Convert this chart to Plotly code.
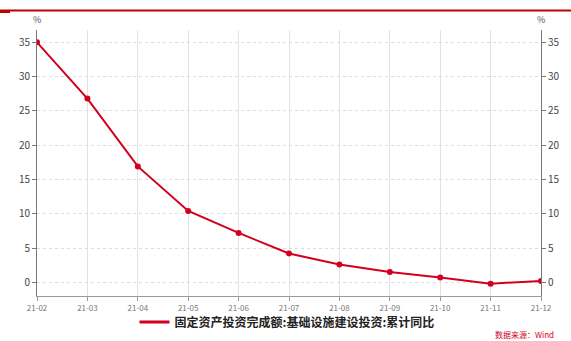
import plotly.graph_objects as go

# Monthly labels and cumulative YoY growth (%)
months = ["21-02", "21-03", "21-04", "21-05", "21-06", "21-07",
          "21-08", "21-09", "21-10", "21-11", "21-12"]
infra_yoy = [35.0, 26.8, 16.9, 10.4, 7.2, 4.2, 2.6, 1.5, 0.7, -0.2, 0.2]
y_ticks = [0, 5, 10, 15, 20, 25, 30, 35]

series_name = "固定资产投资完成额:基础设施建设投资:累计同比"
source_text = "数据来源：Wind"

RED = "#d2001e"
FONT = "Noto Sans CJK SC, Noto Sans, sans-serif"
W, H = 571, 341

fig = go.Figure()
fig.add_trace(go.Scatter(
    x=months, y=infra_yoy, name=series_name, mode="lines+markers",
    line=dict(color=RED, width=2), marker=dict(color=RED, size=6),
    showlegend=False,
))
# legend entry drawn as a plain line sample
fig.add_trace(go.Scatter(
    x=[None], y=[None], name=series_name, mode="lines",
    line=dict(color=RED, width=3), showlegend=True,
))
# invisible trace to drive the right-hand axis
fig.add_trace(go.Scatter(
    x=months, y=infra_yoy, yaxis="y2", mode="lines",
    line=dict(color="rgba(0,0,0,0)"), showlegend=False, hoverinfo="skip",
))

yrange = [-2, 36.8]
fig.update_layout(
    width=W, height=H,
    margin=dict(l=37, r=30, t=30, b=45, autoexpand=False),
    paper_bgcolor="white", plot_bgcolor="white",
    font=dict(family=FONT, color="#333333"),
    showlegend=True,
    legend=dict(orientation="h", xref="container", yref="container",
                x=287 / W, xanchor="center", y=(H - 322) / H, yanchor="middle",
                font=dict(size=12, color="#222222", family=FONT, weight="bold"),
                itemwidth=30, bgcolor="rgba(0,0,0,0)"),
    xaxis=dict(type="category", range=[0, 10], showgrid=True, gridcolor="#e3e3e3",
               gridwidth=1, showline=True, linecolor="#9a9a9a", linewidth=1,
               ticks="outside", ticklen=4, tickcolor="#9a9a9a",
               tickfont=dict(size=8, color="#777777"), zeroline=False),
    yaxis=dict(range=yrange, tickvals=y_ticks, showgrid=True, gridcolor="#dddddd",
               griddash="dot", showline=True, linecolor="#777777", linewidth=1,
               ticks="outside", ticklen=4, tickcolor="#777777",
               tickfont=dict(size=10, color="#444444"), zeroline=False),
    yaxis2=dict(range=yrange, tickvals=y_ticks, overlaying="y", side="right",
                showgrid=False, showline=True, linecolor="#777777", linewidth=1,
                ticks="outside", ticklen=4, tickcolor="#777777",
                tickfont=dict(size=10, color="#444444"), zeroline=False),
    shapes=[
        # header rule across the top
        dict(type="line", xref="paper", yref="paper", x0=-37/504, x1=(W-37)/504,
             y0=1 + 19.5/266, y1=1 + 19.5/266, line=dict(color="#c00000", width=1.8)),
        dict(type="line", xref="paper", yref="paper", x0=-37/504, x1=-27/504,
             y0=1 + 18.5/266, y1=1 + 18.5/266, line=dict(color="#c00000", width=3)),
    ],
    annotations=[
        dict(text="%", xref="paper", yref="paper", x=0, y=1 + 11/266,
             xanchor="center", yanchor="middle", showarrow=False,
             font=dict(size=9, color="#555555")),
        dict(text="%", xref="paper", yref="paper", x=1, y=1 + 11/266,
             xanchor="center", yanchor="middle", showarrow=False,
             font=dict(size=9, color="#555555")),
        dict(text=source_text, xref="paper", yref="paper", x=(556-37)/504,
             y=-(334-296)/266, xanchor="right", yanchor="middle", showarrow=False,
             font=dict(size=8, color="#d0021b")),
    ],
)

fig.write_html("out.html")
